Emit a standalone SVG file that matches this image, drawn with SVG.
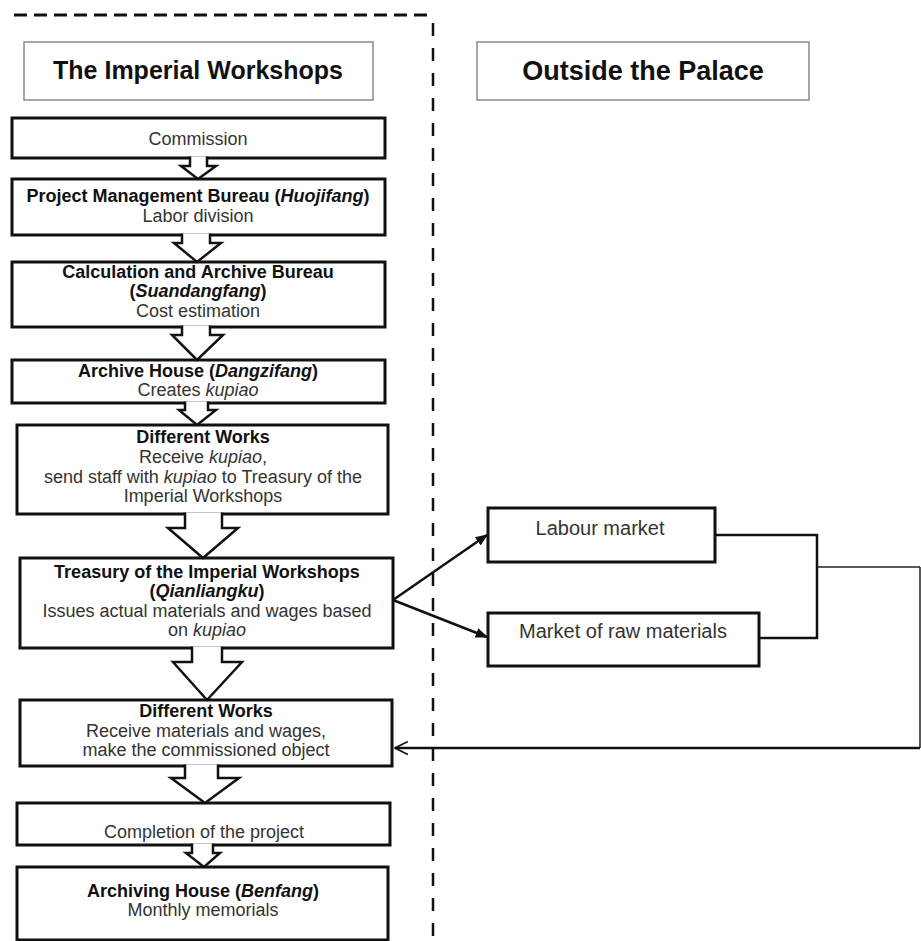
<svg xmlns="http://www.w3.org/2000/svg" width="921" height="941" viewBox="0 0 921 941">
<style>
text{font-family:"Liberation Sans",Arial,sans-serif;fill:#333;text-anchor:middle}
.t{font-size:18px}
.b{font-weight:bold;fill:#111}
.i{font-style:italic}
.title{font-size:25px;font-weight:bold;fill:#111}
.hdr{fill:#fff;stroke:#8a8a8a;stroke-width:1.5}
.box{fill:#fff;stroke:#111;stroke-width:3}
.ba{fill:#fff;stroke:#111;stroke-width:2.5;stroke-linejoin:miter}
.ln{fill:none;stroke:#111;stroke-width:2.5}
.thin{fill:none;stroke:#222;stroke-width:1.5}
.mk{font-size:20px}
</style>
<defs>
<marker id="ah" viewBox="0 0 10 10" refX="9" refY="5" markerWidth="5" markerHeight="5" orient="auto" markerUnits="strokeWidth">
<path d="M0,1 L10,5 L0,9 Z" fill="#111"/>
</marker>
<marker id="oh" viewBox="0 0 14 14" refX="13" refY="7" markerWidth="6" markerHeight="6" orient="auto" markerUnits="strokeWidth">
<path d="M1,1 L13,7 L1,13" fill="none" stroke="#111" stroke-width="1.6"/>
</marker>
</defs>

<g id="boundary">
<line x1="14" y1="15" x2="433" y2="15" stroke="#111" stroke-width="3" stroke-dasharray="13 7"/>
<line x1="433" y1="15" x2="433" y2="941" stroke="#111" stroke-width="2.5" stroke-dasharray="13 12" stroke-dashoffset="-8"/>
</g>

<g id="hdr-left">
<rect class="hdr" x="24" y="42" width="349" height="58"/>
<text class="title" x="198" y="79">The Imperial Workshops</text>
</g>
<g id="hdr-right">
<rect class="hdr" x="477" y="42" width="332" height="58"/>
<text class="title" x="643" y="80" style="font-size:27px">Outside the Palace</text>
</g>

<g id="commission">
<rect class="box" x="12" y="118" width="373" height="40"/>
<text class="t" x="198" y="145">Commission</text>
</g>
<g id="huojifang">
<rect class="box" x="12" y="179" width="373" height="56"/>
<text class="t b" x="198" y="202">Project Management Bureau (<tspan class="i">Huojifang</tspan>)</text>
<text class="t" x="198" y="222">Labor division</text>
</g>
<g id="suandangfang">
<rect class="box" x="12" y="262" width="373" height="65"/>
<text class="t b" x="198" y="278">Calculation and Archive Bureau</text>
<text class="t b" x="198" y="297">(<tspan class="i">Suandangfang</tspan>)</text>
<text class="t" x="198" y="317">Cost estimation</text>
</g>
<g id="dangzifang">
<rect class="box" x="12" y="360" width="373" height="43"/>
<text class="t b" x="198" y="377">Archive House (<tspan class="i">Dangzifang</tspan>)</text>
<text class="t" x="198" y="396">Creates <tspan class="i">kupiao</tspan></text>
</g>
<g id="works1">
<rect class="box" x="17" y="425" width="371" height="89"/>
<text class="t b" x="203" y="443">Different Works</text>
<text class="t" x="203" y="463">Receive <tspan class="i">kupiao</tspan>,</text>
<text class="t" x="203" y="483">send staff with <tspan class="i">kupiao</tspan> to Treasury of the</text>
<text class="t" x="203" y="502">Imperial Workshops</text>
</g>
<g id="qianliangku">
<rect class="box" x="20" y="558" width="373" height="90"/>
<text class="t b" x="207" y="578">Treasury of the Imperial Workshops</text>
<text class="t b" x="207" y="597">(<tspan class="i">Qianliangku</tspan>)</text>
<text class="t" x="207" y="617">Issues actual materials and wages based</text>
<text class="t" x="207" y="636">on <tspan class="i">kupiao</tspan></text>
</g>
<g id="works2">
<rect class="box" x="20" y="700" width="372" height="66"/>
<text class="t b" x="206" y="717">Different Works</text>
<text class="t" x="206" y="737">Receive materials and wages,</text>
<text class="t" x="206" y="756">make the commissioned object</text>
</g>
<g id="completion">
<rect class="box" x="17" y="803" width="373" height="42"/>
<text class="t" x="204" y="838">Completion of the project</text>
</g>
<g id="benfang">
<rect class="box" x="17" y="867" width="371" height="73"/>
<text class="t b" x="203" y="897">Archiving House (<tspan class="i">Benfang</tspan>)</text>
<text class="t" x="203" y="916">Monthly memorials</text>
</g>

<g id="labour">
<rect class="box" x="488" y="508" width="227" height="54"/>
<text class="mk" x="600" y="535">Labour market</text>
</g>
<g id="rawmat">
<rect class="box" x="488" y="613" width="271" height="53"/>
<text class="mk" x="623" y="638">Market of raw materials</text>
</g>

<g id="connectors">
<path class="ba" d="M190,156.5 V166 H181 L198,179 L216,166 H207 V156.5"/>
<path class="ba" d="M182,233.5 V243 H174 L197,262 L221,243 H210 V233.5"/>
<path class="ba" d="M182,325.5 V335 H172 L197,360 L223,335 H210 V325.5"/>
<path class="ba" d="M185,401.5 V410 H179 L197,425 L216,410 H208 V401.5"/>
<path class="ba" d="M185,512.5 V528 H168 L203,558 L238,528 H222 V512.5"/>
<path class="ba" d="M192,646.5 V662 H173 L207,700 L242,662 H222 V646.5"/>
<path class="ba" d="M185,764.5 V778 H171 L205,803 L239,778 H218 V764.5"/>
<path class="ba" d="M192,843.5 V853 H186 L204,867 L220,853 H213 V843.5"/>

<line class="ln" x1="393" y1="600" x2="487" y2="535" marker-end="url(#ah)"/>
<line class="ln" x1="393" y1="600" x2="487" y2="637" marker-end="url(#ah)"/>

<polyline class="ln" points="715,535 817,535 817,638 759,638"/>
<line class="thin" x1="817" y1="567" x2="920" y2="567"/>
<line class="thin" x1="920" y1="567" x2="920" y2="748"/>
<line class="ln" x1="920" y1="748" x2="395" y2="748" marker-end="url(#oh)"/>
</g>
</svg>
